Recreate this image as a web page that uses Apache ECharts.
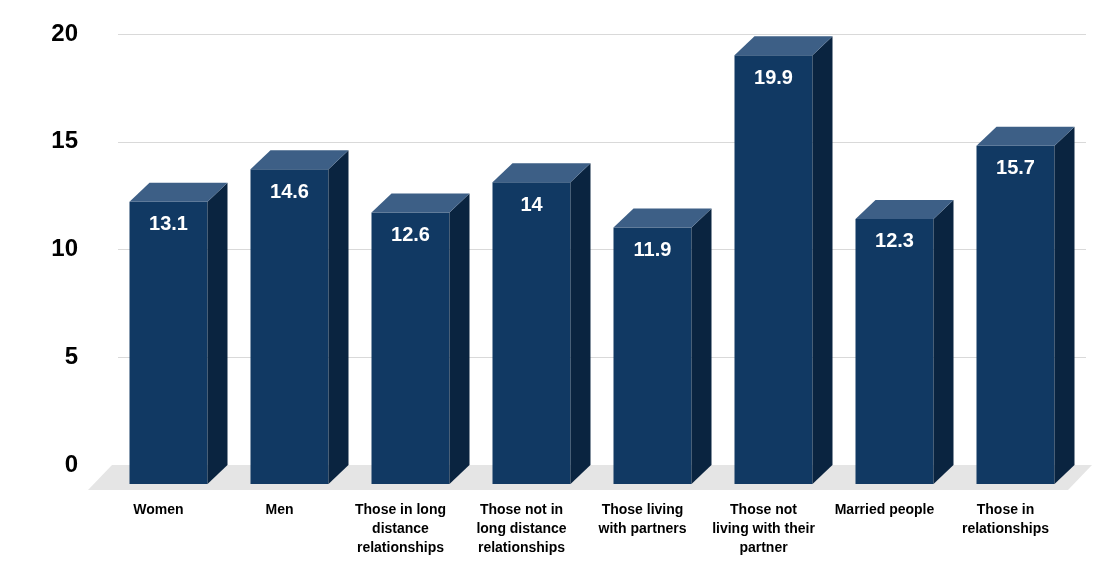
<!DOCTYPE html>
<html><head><meta charset="utf-8">
<script src="https://cdn.jsdelivr.net/npm/echarts@6/dist/echarts.min.js"></script>
<style>html,body{margin:0;padding:0;background:#fff}#c{width:1120px;height:584px}</style>
</head><body><div id="c"></div>
<script>
const categories = ["Women","Men","Those in long\ndistance\nrelationships","Those not in\nlong distance\nrelationships","Those living\nwith partners","Those not\nliving with their\npartner","Married people","Those in\nrelationships"];
const values = [13.1,14.6,12.6,14,11.9,19.9,12.3,15.7];
const yTicks = [0,5,10,15,20];

const chart = echarts.init(document.getElementById('c'));
const DX = 20, DY = 19, W = 78;
chart.setOption({
  animation:false,
  grid:{left:118,right:34,top:34,bottom:119},
  xAxis:{type:'category',data:categories,axisLine:{show:false},axisTick:{show:false},
    axisLabel:{margin:36,fontSize:14,fontWeight:'bold',color:'#000',lineHeight:19,fontFamily:'Liberation Sans, Arial',padding:[0,40,0,0],interval:0}},
  yAxis:{type:'value',min:yTicks[0],max:yTicks[yTicks.length-1],interval:5,
    axisLabel:{fontSize:24,fontWeight:'bold',color:'#000',margin:40,fontFamily:'Liberation Sans, Arial'},
    splitLine:{lineStyle:{color:'#d9d9d9'}},axisLine:{show:false},axisTick:{show:false}},
  series:[{
    type:'custom',
    data:values.map((v,i)=>[i,v]),
    renderItem:function(params,api){
      const i=api.value(0), v=api.value(1);
      const top=api.coord([i,v]), base=api.coord([i,0]);
      const children=[];
      if(params.dataIndex===0){
        const cs=params.coordSys;
        children.push({type:'polygon',shape:{points:[[cs.x-6,base[1]],[cs.x+cs.width+6,base[1]],[cs.x+cs.width-18,base[1]+25],[cs.x-30,base[1]+25]]},style:{fill:'#e5e5e5'},z2:0});
      }
      const fx=top[0]-DX/2-W/2, fr=fx+W, ft=top[1]+DY, fb=base[1]+DY;
      children.push({type:'rect',shape:{x:fx,y:ft,width:W,height:fb-ft},style:{fill:'#113963'},z2:2});
      children.push({type:'polygon',shape:{points:[[fr,ft],[fr+DX,ft-DY],[fr+DX,fb-DY],[fr,fb]]},style:{fill:'#0a2440'},z2:2});
      children.push({type:'polygon',shape:{points:[[fx,ft],[fx+DX,ft-DY],[fr+DX,ft-DY],[fr,ft]]},style:{fill:'#3d5f86'},z2:2});
      children.push({type:'text',style:{text:String(v),x:fx+W/2,y:ft+23,align:'center',verticalAlign:'middle',fill:'#fff',font:'bold 20px "Liberation Sans", Arial'},z2:3});
      return {type:'group',children};
    }
  }]
});
</script></body></html>
